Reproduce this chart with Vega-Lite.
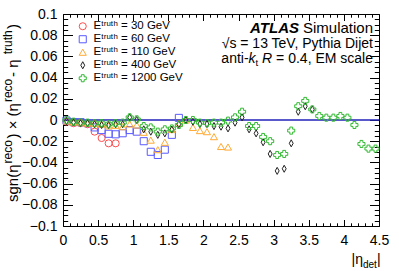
{
  "$schema": "https://vega.github.io/schema/vega-lite/v6.json",
  "width": 316,
  "height": 212,
  "autosize": {"type": "none"},
  "padding": {"left": 63, "top": 14, "right": 20, "bottom": 45},
  "background": "white",
  "config": {
    "view": {"stroke": "black", "strokeWidth": 1},
    "font": "Liberation Sans",
    "axis": {
      "labelFont": "Liberation Sans", "labelFontSize": 14, "labelColor": "black",
      "tickColor": "black", "tickWidth": 1, "domain": false, "grid": false, "title": null,
      "labelOverlap": false, "labelFlush": false, "labelBound": false
    }
  },
  "data": {"values": [
    {"series": "Eᵗʳᵘᵗʰ = 30 GeV", "eta": 0.05, "val": -0.0015},
    {"series": "Eᵗʳᵘᵗʰ = 30 GeV", "eta": 0.15, "val": -0.003},
    {"series": "Eᵗʳᵘᵗʰ = 30 GeV", "eta": 0.25, "val": -0.003},
    {"series": "Eᵗʳᵘᵗʰ = 30 GeV", "eta": 0.35, "val": -0.004},
    {"series": "Eᵗʳᵘᵗʰ = 30 GeV", "eta": 0.45, "val": -0.011},
    {"series": "Eᵗʳᵘᵗʰ = 30 GeV", "eta": 0.55, "val": -0.017},
    {"series": "Eᵗʳᵘᵗʰ = 30 GeV", "eta": 0.65, "val": -0.022},
    {"series": "Eᵗʳᵘᵗʰ = 30 GeV", "eta": 0.75, "val": -0.022},
    {"series": "Eᵗʳᵘᵗʰ = 60 GeV", "eta": 0.05, "val": -0.0005},
    {"series": "Eᵗʳᵘᵗʰ = 60 GeV", "eta": 0.15, "val": -0.002},
    {"series": "Eᵗʳᵘᵗʰ = 60 GeV", "eta": 0.25, "val": -0.002},
    {"series": "Eᵗʳᵘᵗʰ = 60 GeV", "eta": 0.35, "val": -0.003},
    {"series": "Eᵗʳᵘᵗʰ = 60 GeV", "eta": 0.45, "val": -0.007},
    {"series": "Eᵗʳᵘᵗʰ = 60 GeV", "eta": 0.55, "val": -0.0095},
    {"series": "Eᵗʳᵘᵗʰ = 60 GeV", "eta": 0.65, "val": -0.013},
    {"series": "Eᵗʳᵘᵗʰ = 60 GeV", "eta": 0.75, "val": -0.0135},
    {"series": "Eᵗʳᵘᵗʰ = 60 GeV", "eta": 0.85, "val": -0.0125},
    {"series": "Eᵗʳᵘᵗʰ = 60 GeV", "eta": 0.95, "val": -0.0095},
    {"series": "Eᵗʳᵘᵗʰ = 60 GeV", "eta": 1.05, "val": -0.011},
    {"series": "Eᵗʳᵘᵗʰ = 60 GeV", "eta": 1.15, "val": -0.02},
    {"series": "Eᵗʳᵘᵗʰ = 60 GeV", "eta": 1.25, "val": -0.03},
    {"series": "Eᵗʳᵘᵗʰ = 60 GeV", "eta": 1.35, "val": -0.033},
    {"series": "Eᵗʳᵘᵗʰ = 60 GeV", "eta": 1.45, "val": -0.028},
    {"series": "Eᵗʳᵘᵗʰ = 60 GeV", "eta": 1.55, "val": -0.014},
    {"series": "Eᵗʳᵘᵗʰ = 60 GeV", "eta": 1.65, "val": 0.002},
    {"series": "Eᵗʳᵘᵗʰ = 110 GeV", "eta": 0.05, "val": -0.001},
    {"series": "Eᵗʳᵘᵗʰ = 110 GeV", "eta": 0.15, "val": -0.002},
    {"series": "Eᵗʳᵘᵗʰ = 110 GeV", "eta": 0.25, "val": -0.002},
    {"series": "Eᵗʳᵘᵗʰ = 110 GeV", "eta": 0.35, "val": -0.003},
    {"series": "Eᵗʳᵘᵗʰ = 110 GeV", "eta": 0.45, "val": -0.003},
    {"series": "Eᵗʳᵘᵗʰ = 110 GeV", "eta": 0.55, "val": -0.004},
    {"series": "Eᵗʳᵘᵗʰ = 110 GeV", "eta": 0.65, "val": -0.0055},
    {"series": "Eᵗʳᵘᵗʰ = 110 GeV", "eta": 0.75, "val": -0.005},
    {"series": "Eᵗʳᵘᵗʰ = 110 GeV", "eta": 0.85, "val": -0.0063},
    {"series": "Eᵗʳᵘᵗʰ = 110 GeV", "eta": 0.95, "val": -0.0038},
    {"series": "Eᵗʳᵘᵗʰ = 110 GeV", "eta": 1.05, "val": -0.0047},
    {"series": "Eᵗʳᵘᵗʰ = 110 GeV", "eta": 1.15, "val": -0.0116},
    {"series": "Eᵗʳᵘᵗʰ = 110 GeV", "eta": 1.25, "val": -0.019},
    {"series": "Eᵗʳᵘᵗʰ = 110 GeV", "eta": 1.35, "val": -0.028},
    {"series": "Eᵗʳᵘᵗʰ = 110 GeV", "eta": 1.45, "val": -0.021},
    {"series": "Eᵗʳᵘᵗʰ = 110 GeV", "eta": 1.55, "val": -0.009},
    {"series": "Eᵗʳᵘᵗʰ = 110 GeV", "eta": 1.65, "val": -0.003},
    {"series": "Eᵗʳᵘᵗʰ = 110 GeV", "eta": 1.75, "val": 0.0},
    {"series": "Eᵗʳᵘᵗʰ = 110 GeV", "eta": 1.85, "val": -0.007},
    {"series": "Eᵗʳᵘᵗʰ = 110 GeV", "eta": 1.95, "val": -0.010},
    {"series": "Eᵗʳᵘᵗʰ = 110 GeV", "eta": 2.05, "val": -0.011},
    {"series": "Eᵗʳᵘᵗʰ = 110 GeV", "eta": 2.15, "val": -0.0157},
    {"series": "Eᵗʳᵘᵗʰ = 110 GeV", "eta": 2.25, "val": -0.025},
    {"series": "Eᵗʳᵘᵗʰ = 110 GeV", "eta": 2.35, "val": -0.0255},
    {"series": "Eᵗʳᵘᵗʰ = 400 GeV", "eta": 0.05, "val": -0.001},
    {"series": "Eᵗʳᵘᵗʰ = 400 GeV", "eta": 0.15, "val": -0.0022},
    {"series": "Eᵗʳᵘᵗʰ = 400 GeV", "eta": 0.25, "val": -0.003},
    {"series": "Eᵗʳᵘᵗʰ = 400 GeV", "eta": 0.35, "val": -0.003},
    {"series": "Eᵗʳᵘᵗʰ = 400 GeV", "eta": 0.45, "val": -0.004},
    {"series": "Eᵗʳᵘᵗʰ = 400 GeV", "eta": 0.55, "val": -0.0047},
    {"series": "Eᵗʳᵘᵗʰ = 400 GeV", "eta": 0.65, "val": -0.0047},
    {"series": "Eᵗʳᵘᵗʰ = 400 GeV", "eta": 0.75, "val": -0.004},
    {"series": "Eᵗʳᵘᵗʰ = 400 GeV", "eta": 0.85, "val": -0.004},
    {"series": "Eᵗʳᵘᵗʰ = 400 GeV", "eta": 0.95, "val": 0.0025},
    {"series": "Eᵗʳᵘᵗʰ = 400 GeV", "eta": 1.05, "val": 0.0},
    {"series": "Eᵗʳᵘᵗʰ = 400 GeV", "eta": 1.15, "val": -0.0088},
    {"series": "Eᵗʳᵘᵗʰ = 400 GeV", "eta": 1.25, "val": -0.011},
    {"series": "Eᵗʳᵘᵗʰ = 400 GeV", "eta": 1.35, "val": -0.014},
    {"series": "Eᵗʳᵘᵗʰ = 400 GeV", "eta": 1.45, "val": -0.0126},
    {"series": "Eᵗʳᵘᵗʰ = 400 GeV", "eta": 1.55, "val": -0.009},
    {"series": "Eᵗʳᵘᵗʰ = 400 GeV", "eta": 1.65, "val": -0.004},
    {"series": "Eᵗʳᵘᵗʰ = 400 GeV", "eta": 1.75, "val": 0.0},
    {"series": "Eᵗʳᵘᵗʰ = 400 GeV", "eta": 1.85, "val": -0.0016},
    {"series": "Eᵗʳᵘᵗʰ = 400 GeV", "eta": 1.95, "val": -0.0038},
    {"series": "Eᵗʳᵘᵗʰ = 400 GeV", "eta": 2.05, "val": -0.0038},
    {"series": "Eᵗʳᵘᵗʰ = 400 GeV", "eta": 2.15, "val": -0.0057},
    {"series": "Eᵗʳᵘᵗʰ = 400 GeV", "eta": 2.25, "val": -0.0063},
    {"series": "Eᵗʳᵘᵗʰ = 400 GeV", "eta": 2.35, "val": -0.0079},
    {"series": "Eᵗʳᵘᵗʰ = 400 GeV", "eta": 2.45, "val": -0.0025},
    {"series": "Eᵗʳᵘᵗʰ = 400 GeV", "eta": 2.55, "val": 0.0025},
    {"series": "Eᵗʳᵘᵗʰ = 400 GeV", "eta": 2.65, "val": -0.0088},
    {"series": "Eᵗʳᵘᵗʰ = 400 GeV", "eta": 2.75, "val": -0.0126},
    {"series": "Eᵗʳᵘᵗʰ = 400 GeV", "eta": 2.85, "val": -0.021},
    {"series": "Eᵗʳᵘᵗʰ = 400 GeV", "eta": 2.95, "val": -0.032},
    {"series": "Eᵗʳᵘᵗʰ = 400 GeV", "eta": 3.05, "val": -0.048},
    {"series": "Eᵗʳᵘᵗʰ = 400 GeV", "eta": 3.15, "val": -0.046},
    {"series": "Eᵗʳᵘᵗʰ = 400 GeV", "eta": 3.25, "val": -0.022},
    {"series": "Eᵗʳᵘᵗʰ = 400 GeV", "eta": 3.35, "val": 0.0078},
    {"series": "Eᵗʳᵘᵗʰ = 400 GeV", "eta": 3.45, "val": 0.013},
    {"series": "Eᵗʳᵘᵗʰ = 400 GeV", "eta": 3.55, "val": 0.010},
    {"series": "Eᵗʳᵘᵗʰ = 1200 GeV", "eta": 0.05, "val": 0.0},
    {"series": "Eᵗʳᵘᵗʰ = 1200 GeV", "eta": 0.15, "val": -0.0016},
    {"series": "Eᵗʳᵘᵗʰ = 1200 GeV", "eta": 0.25, "val": -0.0022},
    {"series": "Eᵗʳᵘᵗʰ = 1200 GeV", "eta": 0.35, "val": -0.0025},
    {"series": "Eᵗʳᵘᵗʰ = 1200 GeV", "eta": 0.45, "val": -0.003},
    {"series": "Eᵗʳᵘᵗʰ = 1200 GeV", "eta": 0.55, "val": -0.003},
    {"series": "Eᵗʳᵘᵗʰ = 1200 GeV", "eta": 0.65, "val": -0.004},
    {"series": "Eᵗʳᵘᵗʰ = 1200 GeV", "eta": 0.75, "val": -0.003},
    {"series": "Eᵗʳᵘᵗʰ = 1200 GeV", "eta": 0.85, "val": -0.0025},
    {"series": "Eᵗʳᵘᵗʰ = 1200 GeV", "eta": 0.95, "val": 0.0025},
    {"series": "Eᵗʳᵘᵗʰ = 1200 GeV", "eta": 1.05, "val": 0.0006},
    {"series": "Eᵗʳᵘᵗʰ = 1200 GeV", "eta": 1.15, "val": -0.0057},
    {"series": "Eᵗʳᵘᵗʰ = 1200 GeV", "eta": 1.25, "val": -0.007},
    {"series": "Eᵗʳᵘᵗʰ = 1200 GeV", "eta": 1.35, "val": -0.011},
    {"series": "Eᵗʳᵘᵗʰ = 1200 GeV", "eta": 1.45, "val": -0.0088},
    {"series": "Eᵗʳᵘᵗʰ = 1200 GeV", "eta": 1.55, "val": -0.008},
    {"series": "Eᵗʳᵘᵗʰ = 1200 GeV", "eta": 1.65, "val": -0.0047},
    {"series": "Eᵗʳᵘᵗʰ = 1200 GeV", "eta": 1.75, "val": 0.0},
    {"series": "Eᵗʳᵘᵗʰ = 1200 GeV", "eta": 1.85, "val": 0.0},
    {"series": "Eᵗʳᵘᵗʰ = 1200 GeV", "eta": 1.95, "val": -0.0025},
    {"series": "Eᵗʳᵘᵗʰ = 1200 GeV", "eta": 2.05, "val": -0.003},
    {"series": "Eᵗʳᵘᵗʰ = 1200 GeV", "eta": 2.15, "val": -0.0025},
    {"series": "Eᵗʳᵘᵗʰ = 1200 GeV", "eta": 2.25, "val": -0.0025},
    {"series": "Eᵗʳᵘᵗʰ = 1200 GeV", "eta": 2.35, "val": -0.0006},
    {"series": "Eᵗʳᵘᵗʰ = 1200 GeV", "eta": 2.45, "val": 0.0025},
    {"series": "Eᵗʳᵘᵗʰ = 1200 GeV", "eta": 2.55, "val": 0.0078},
    {"series": "Eᵗʳᵘᵗʰ = 1200 GeV", "eta": 2.65, "val": -0.0057},
    {"series": "Eᵗʳᵘᵗʰ = 1200 GeV", "eta": 2.75, "val": -0.0057},
    {"series": "Eᵗʳᵘᵗʰ = 1200 GeV", "eta": 2.85, "val": -0.016},
    {"series": "Eᵗʳᵘᵗʰ = 1200 GeV", "eta": 2.95, "val": -0.020},
    {"series": "Eᵗʳᵘᵗʰ = 1200 GeV", "eta": 3.05, "val": -0.033},
    {"series": "Eᵗʳᵘᵗʰ = 1200 GeV", "eta": 3.15, "val": -0.032},
    {"series": "Eᵗʳᵘᵗʰ = 1200 GeV", "eta": 3.25, "val": -0.010},
    {"series": "Eᵗʳᵘᵗʰ = 1200 GeV", "eta": 3.35, "val": 0.013},
    {"series": "Eᵗʳᵘᵗʰ = 1200 GeV", "eta": 3.45, "val": 0.018},
    {"series": "Eᵗʳᵘᵗʰ = 1200 GeV", "eta": 3.55, "val": 0.010},
    {"series": "Eᵗʳᵘᵗʰ = 1200 GeV", "eta": 3.65, "val": 0.0038},
    {"series": "Eᵗʳᵘᵗʰ = 1200 GeV", "eta": 3.75, "val": 0.0022},
    {"series": "Eᵗʳᵘᵗʰ = 1200 GeV", "eta": 3.85, "val": 0.0022},
    {"series": "Eᵗʳᵘᵗʰ = 1200 GeV", "eta": 3.95, "val": 0.0038},
    {"series": "Eᵗʳᵘᵗʰ = 1200 GeV", "eta": 4.05, "val": 0.0022},
    {"series": "Eᵗʳᵘᵗʰ = 1200 GeV", "eta": 4.15, "val": -0.0047},
    {"series": "Eᵗʳᵘᵗʰ = 1200 GeV", "eta": 4.25, "val": -0.0226},
    {"series": "Eᵗʳᵘᵗʰ = 1200 GeV", "eta": 4.35, "val": -0.027},
    {"series": "Eᵗʳᵘᵗʰ = 1200 GeV", "eta": 4.45, "val": -0.027}
  ]},
  "resolve": {"axis": {"x": "independent", "y": "independent"}},
  "layer": [
    {
      "data": {"values": [{}]},
      "mark": {"type": "rule", "color": "#2222bb", "strokeWidth": 1.5},
      "encoding": {
        "x": {"datum": 0, "type": "quantitative",
          "scale": {"domain": [0, 4.5], "nice": false, "zero": false},
          "axis": {"orient": "top", "labels": false, "tickSize": -6.5,
            "values": [0,0.5,1,1.5,2,2.5,3,3.5,4,4.5]}},
        "x2": {"datum": 4.5},
        "y": {"datum": 0, "type": "quantitative",
          "scale": {"domain": [-0.1, 0.1], "nice": false},
          "axis": {"orient": "right", "labels": false, "tickSize": -9.5,
            "values": [-0.1,-0.08,-0.06,-0.04,-0.02,0,0.02,0.04,0.06,0.08,0.1]}}
      }
    },
    {
      "data": {"values": [{}]},
      "mark": {"type": "rule", "opacity": 0},
      "encoding": {
        "x": {"datum": 0, "type": "quantitative",
          "axis": {"orient": "top", "labels": false, "tickSize": -3.2,
            "values": [0.1,0.2,0.3,0.4,0.6,0.7,0.8,0.9,1.1,1.2,1.3,1.4,1.6,1.7,1.8,1.9,2.1,2.2,2.3,2.4,2.6,2.7,2.8,2.9,3.1,3.2,3.3,3.4,3.6,3.7,3.8,3.9,4.1,4.2,4.3,4.4]}},
        "x2": {"datum": 4.5},
        "y": {"datum": 0, "type": "quantitative",
          "axis": {"orient": "right", "labels": false, "tickSize": -4.7,
            "values": [-0.095,-0.09,-0.085,-0.075,-0.07,-0.065,-0.055,-0.05,-0.045,-0.035,-0.03,-0.025,-0.015,-0.01,-0.005,0.005,0.01,0.015,0.025,0.03,0.035,0.045,0.05,0.055,0.065,0.07,0.075,0.085,0.09,0.095]}}
      }
    },
    {
      "data": {"values": [{}]},
      "mark": {"type": "rule", "opacity": 0},
      "encoding": {
        "x": {"datum": 0, "type": "quantitative",
          "axis": {"orient": "bottom", "labels": false, "tickSize": -6.5,
            "values": [0,0.5,1,1.5,2,2.5,3,3.5,4,4.5]}},
        "x2": {"datum": 4.5},
        "y": {"datum": 0, "type": "quantitative",
          "axis": {"orient": "left", "labels": false, "tickSize": -9.5,
            "values": [-0.1,-0.08,-0.06,-0.04,-0.02,0,0.02,0.04,0.06,0.08,0.1]}}
      }
    },
    {
      "data": {"values": [{}]},
      "mark": {"type": "rule", "opacity": 0},
      "encoding": {
        "x": {"datum": 0, "type": "quantitative",
          "axis": {"orient": "bottom", "labels": false, "tickSize": -3.2,
            "values": [0.1,0.2,0.3,0.4,0.6,0.7,0.8,0.9,1.1,1.2,1.3,1.4,1.6,1.7,1.8,1.9,2.1,2.2,2.3,2.4,2.6,2.7,2.8,2.9,3.1,3.2,3.3,3.4,3.6,3.7,3.8,3.9,4.1,4.2,4.3,4.4]}},
        "x2": {"datum": 4.5},
        "y": {"datum": 0, "type": "quantitative",
          "axis": {"orient": "left", "labels": false, "tickSize": -4.7,
            "values": [-0.095,-0.09,-0.085,-0.075,-0.07,-0.065,-0.055,-0.05,-0.045,-0.035,-0.03,-0.025,-0.015,-0.01,-0.005,0.005,0.01,0.015,0.025,0.03,0.035,0.045,0.05,0.055,0.065,0.07,0.075,0.085,0.09,0.095]}}
      }
    },
    {
      "mark": {"type": "point", "filled": false, "size": 50, "strokeWidth": 1, "opacity": 1},
      "encoding": {
        "x": {"field": "eta", "type": "quantitative",
          "axis": {"orient": "bottom", "ticks": false, "format": "~g", "labelPadding": 7,
            "values": [0,0.5,1,1.5,2,2.5,3,3.5,4,4.5]}},
        "y": {"field": "val", "type": "quantitative",
          "axis": {"orient": "left", "ticks": false, "format": "~g", "labelPadding": 6,
            "values": [-0.1,-0.08,-0.06,-0.04,-0.02,0,0.02,0.04,0.06,0.08,0.1],
            "labelExpr": "replace(datum.label, '-', '−')"}},
        "color": {"field": "series", "type": "nominal",
          "scale": {"domain": ["Eᵗʳᵘᵗʰ = 30 GeV", "Eᵗʳᵘᵗʰ = 60 GeV", "Eᵗʳᵘᵗʰ = 110 GeV", "Eᵗʳᵘᵗʰ = 400 GeV", "Eᵗʳᵘᵗʰ = 1200 GeV"],
            "range": ["#ff4d4d", "#5a5aff", "#ffaa33", "#222222", "#33bb33"]},
          "legend": {"title": null, "orient": "none", "legendX": 14, "legendY": 6, "padding": 0,
            "labelFont": "Liberation Sans", "labelFontSize": 11.5, "labelColor": "black",
            "symbolSize": 50, "symbolStrokeWidth": 1, "rowPadding": 0, "clipHeight": 12.5, "labelOffset": 5}},
        "shape": {"field": "series", "type": "nominal",
          "scale": {"domain": ["Eᵗʳᵘᵗʰ = 30 GeV", "Eᵗʳᵘᵗʰ = 60 GeV", "Eᵗʳᵘᵗʰ = 110 GeV", "Eᵗʳᵘᵗʰ = 400 GeV", "Eᵗʳᵘᵗʰ = 1200 GeV"],
            "range": ["circle", "square", "triangle-up", "M0,-1L0.55,0L0,1L-0.55,0Z", "cross"]}}
      }
    },
    {
      "data": {"values": [{}]},
      "mark": {"type": "text", "text": "Simulation", "align": "right", "baseline": "alphabetic", "fontSize": 15, "font": "Liberation Sans", "dx": -6, "dy": 19, "color": "black"},
      "encoding": {"x": {"datum": 4.5, "type": "quantitative", "axis": null}, "y": {"datum": 0.1, "type": "quantitative", "axis": null}}
    },
    {
      "data": {"values": [{}]},
      "mark": {"type": "text", "text": "ATLAS", "align": "right", "baseline": "alphabetic", "fontSize": 15, "font": "Liberation Sans", "fontWeight": "bold", "fontStyle": "italic", "dx": -80, "dy": 19, "color": "black"},
      "encoding": {"x": {"datum": 4.5, "type": "quantitative", "axis": null}, "y": {"datum": 0.1, "type": "quantitative", "axis": null}}
    },
    {
      "data": {"values": [{}]},
      "mark": {"type": "text", "text": "√s = 13 TeV, Pythia Dijet", "align": "right", "baseline": "alphabetic", "fontSize": 14, "font": "Liberation Sans", "dx": -6, "dy": 34, "color": "black"},
      "encoding": {"x": {"datum": 4.5, "type": "quantitative", "axis": null}, "y": {"datum": 0.1, "type": "quantitative", "axis": null}}
    },
    {
      "data": {"values": [{}]},
      "mark": {"type": "text", "text": " = 0.4, EM scale", "align": "right", "baseline": "alphabetic", "fontSize": 14, "font": "Liberation Sans", "dx": -6, "dy": 49, "color": "black"},
      "encoding": {"x": {"datum": 4.5, "type": "quantitative", "axis": null}, "y": {"datum": 0.1, "type": "quantitative", "axis": null}}
    },
    {
      "data": {"values": [{}]},
      "mark": {"type": "text", "text": "R", "align": "right", "baseline": "alphabetic", "fontSize": 14, "font": "Liberation Sans", "fontStyle": "italic", "dx": -106.8, "dy": 49, "color": "black"},
      "encoding": {"x": {"datum": 4.5, "type": "quantitative", "axis": null}, "y": {"datum": 0.1, "type": "quantitative", "axis": null}}
    },
    {
      "data": {"values": [{}]},
      "mark": {"type": "text", "text": "t", "align": "right", "baseline": "alphabetic", "fontSize": 9.5, "font": "Liberation Sans", "dx": -120.8, "dy": 52, "color": "black"},
      "encoding": {"x": {"datum": 4.5, "type": "quantitative", "axis": null}, "y": {"datum": 0.1, "type": "quantitative", "axis": null}}
    },
    {
      "data": {"values": [{}]},
      "mark": {"type": "text", "text": "k", "align": "right", "baseline": "alphabetic", "fontSize": 14, "font": "Liberation Sans", "fontStyle": "italic", "dx": -123.4, "dy": 49, "color": "black"},
      "encoding": {"x": {"datum": 4.5, "type": "quantitative", "axis": null}, "y": {"datum": 0.1, "type": "quantitative", "axis": null}}
    },
    {
      "data": {"values": [{}]},
      "mark": {"type": "text", "text": "anti-", "align": "right", "baseline": "alphabetic", "fontSize": 14, "font": "Liberation Sans", "dx": -130.4, "dy": 49, "color": "black"},
      "encoding": {"x": {"datum": 4.5, "type": "quantitative", "axis": null}, "y": {"datum": 0.1, "type": "quantitative", "axis": null}}
    },
    {
      "data": {"values": [{}]},
      "mark": {"type": "text", "text": "|η", "align": "right", "baseline": "alphabetic", "fontSize": 14, "font": "Liberation Sans", "dx": -16, "dy": 38, "color": "black"},
      "encoding": {"x": {"datum": 4.5, "type": "quantitative", "axis": null}, "y": {"datum": -0.1, "type": "quantitative", "axis": null}}
    },
    {
      "data": {"values": [{}]},
      "mark": {"type": "text", "text": "det", "align": "left", "baseline": "alphabetic", "fontSize": 10, "font": "Liberation Sans", "dx": -16, "dy": 42, "color": "black"},
      "encoding": {"x": {"datum": 4.5, "type": "quantitative", "axis": null}, "y": {"datum": -0.1, "type": "quantitative", "axis": null}}
    },
    {
      "data": {"values": [{}]},
      "mark": {"type": "text", "text": "|", "align": "left", "baseline": "alphabetic", "fontSize": 14, "font": "Liberation Sans", "dx": -2, "dy": 38, "color": "black"},
      "encoding": {"x": {"datum": 4.5, "type": "quantitative", "axis": null}, "y": {"datum": -0.1, "type": "quantitative", "axis": null}}
    },
    {
      "data": {"values": [{}]},
      "mark": {"type": "text", "text": "sgn(η", "align": "left", "baseline": "alphabetic", "angle": 270, "fontSize": 15, "font": "Liberation Sans", "dx": 24, "dy": -45, "color": "black"},
      "encoding": {"x": {"datum": 0, "type": "quantitative", "axis": null}, "y": {"datum": -0.1, "type": "quantitative", "axis": null}}
    },
    {
      "data": {"values": [{}]},
      "mark": {"type": "text", "text": "reco", "align": "left", "baseline": "alphabetic", "angle": 270, "fontSize": 12, "font": "Liberation Sans", "dx": 62.5, "dy": -51, "color": "black"},
      "encoding": {"x": {"datum": 0, "type": "quantitative", "axis": null}, "y": {"datum": -0.1, "type": "quantitative", "axis": null}}
    },
    {
      "data": {"values": [{}]},
      "mark": {"type": "text", "text": ") × (η", "align": "left", "baseline": "alphabetic", "angle": 270, "fontSize": 15, "font": "Liberation Sans", "dx": 87.5, "dy": -45, "color": "black"},
      "encoding": {"x": {"datum": 0, "type": "quantitative", "axis": null}, "y": {"datum": -0.1, "type": "quantitative", "axis": null}}
    },
    {
      "data": {"values": [{}]},
      "mark": {"type": "text", "text": "reco", "align": "left", "baseline": "alphabetic", "angle": 270, "fontSize": 12, "font": "Liberation Sans", "dx": 123.9, "dy": -51, "color": "black"},
      "encoding": {"x": {"datum": 0, "type": "quantitative", "axis": null}, "y": {"datum": -0.1, "type": "quantitative", "axis": null}}
    },
    {
      "data": {"values": [{}]},
      "mark": {"type": "text", "text": " - η", "align": "left", "baseline": "alphabetic", "angle": 270, "fontSize": 15, "font": "Liberation Sans", "dx": 149, "dy": -45, "color": "black"},
      "encoding": {"x": {"datum": 0, "type": "quantitative", "axis": null}, "y": {"datum": -0.1, "type": "quantitative", "axis": null}}
    },
    {
      "data": {"values": [{}]},
      "mark": {"type": "text", "text": "truth", "align": "left", "baseline": "alphabetic", "angle": 270, "fontSize": 12, "font": "Liberation Sans", "dx": 171.7, "dy": -51, "color": "black"},
      "encoding": {"x": {"datum": 0, "type": "quantitative", "axis": null}, "y": {"datum": -0.1, "type": "quantitative", "axis": null}}
    },
    {
      "data": {"values": [{}]},
      "mark": {"type": "text", "text": ")", "align": "left", "baseline": "alphabetic", "angle": 270, "fontSize": 15, "font": "Liberation Sans", "dx": 197, "dy": -45, "color": "black"},
      "encoding": {"x": {"datum": 0, "type": "quantitative", "axis": null}, "y": {"datum": -0.1, "type": "quantitative", "axis": null}}
    }
  ]
}
